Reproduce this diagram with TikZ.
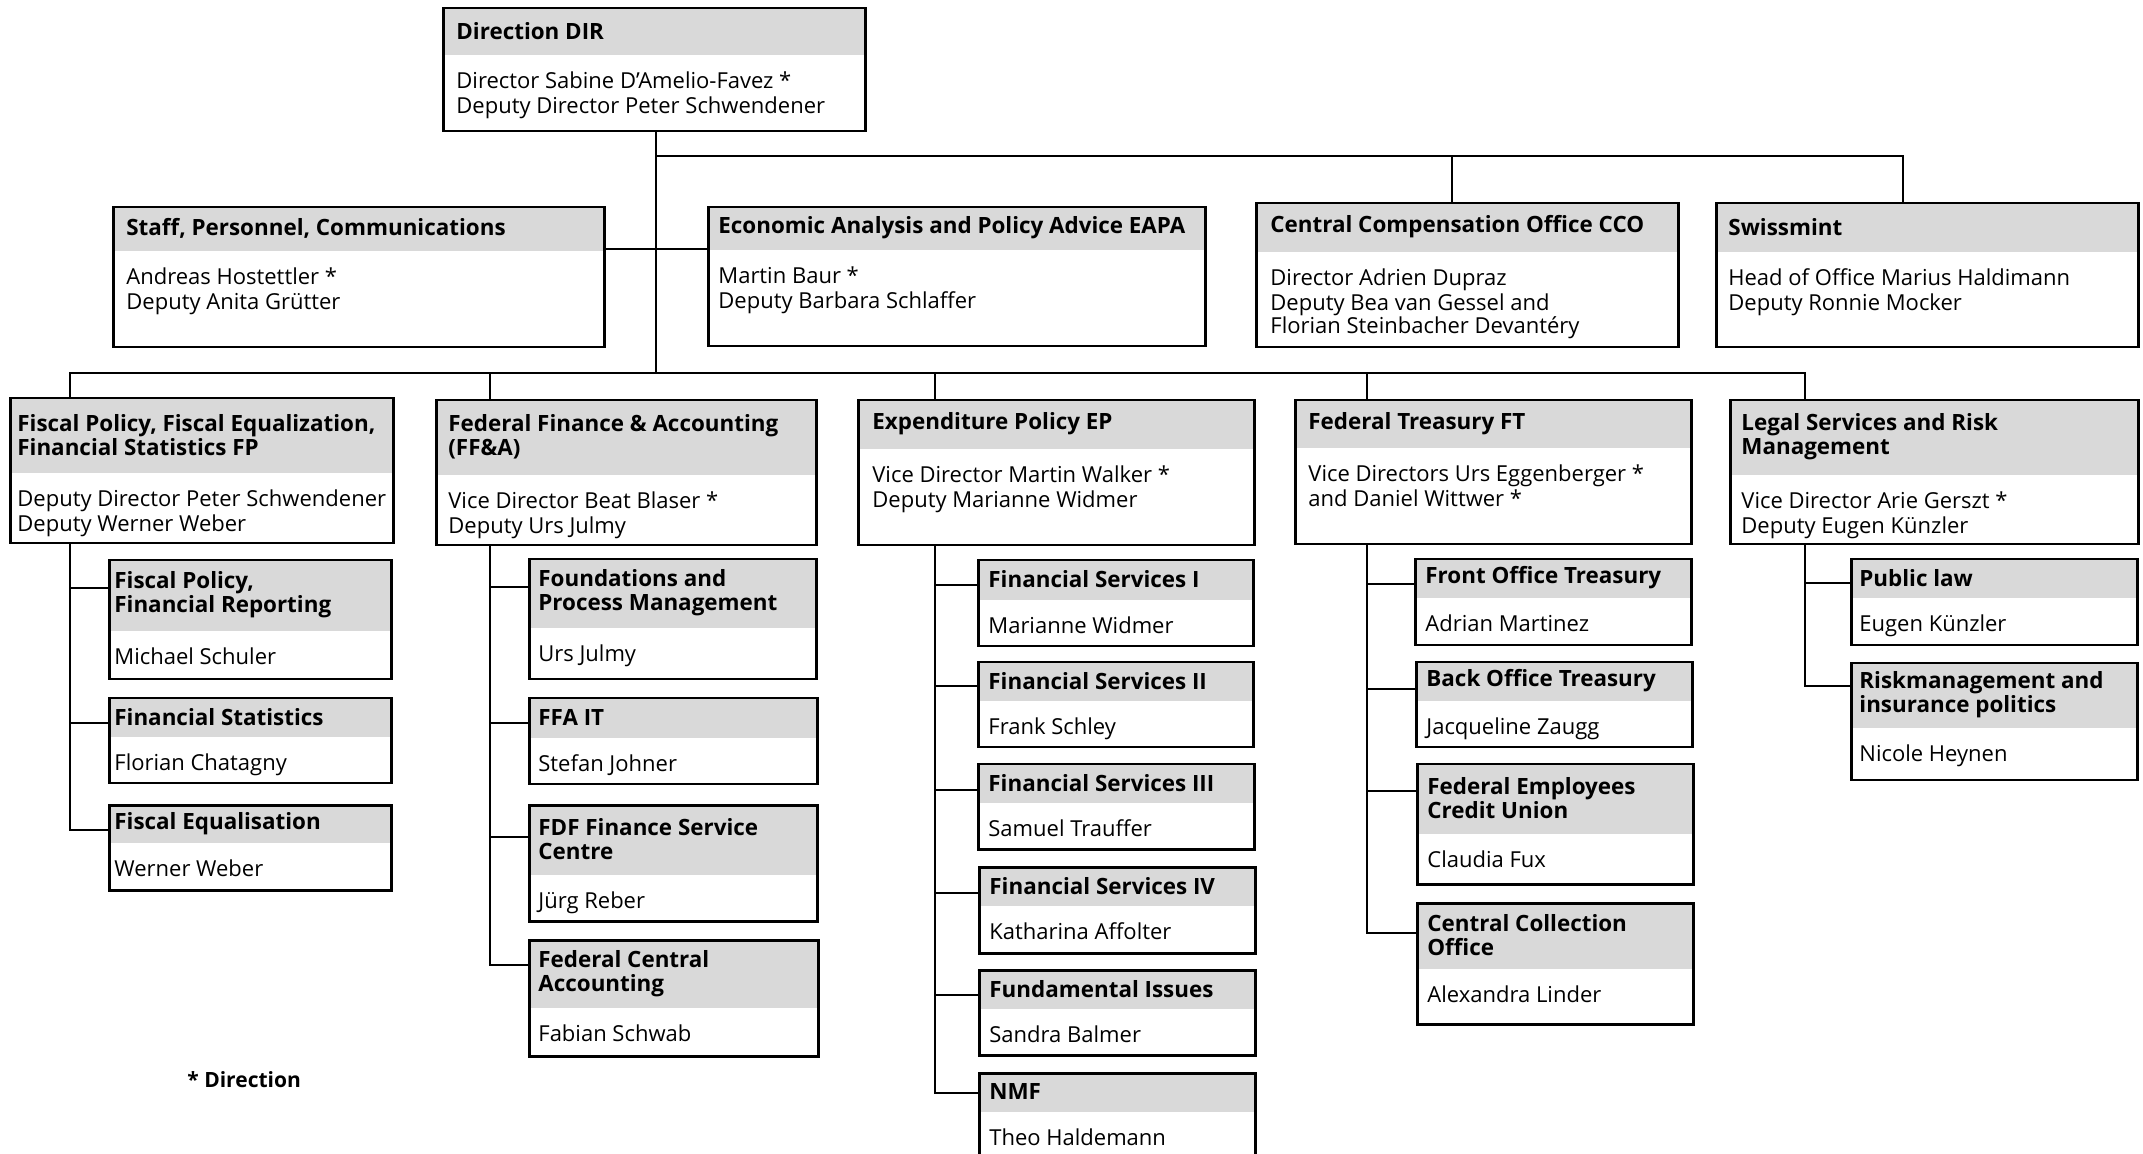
\documentclass[tikz,border=0pt]{standalone}
\usepackage{fontspec}
\setmainfont{Open Sans}
\usetikzlibrary{calc}
\definecolor{hdrgray}{RGB}{217,217,217}
\tikzset{
  conn/.style={line width=1.25pt, draw=black},
  orgbox/.style={draw=black, line width=1.25pt, inner sep=0pt, rectangle},
  titletext/.style={inner sep=0pt, align=left, font=\fontsize{11.2}{12}\selectfont\bfseries},
  bodytext/.style={inner sep=0pt, align=left, font=\fontsize{11}{11.5}\selectfont},
}
% #1 text offset, #2 name, #3 x1, #4 y1, #5 x2, #6 header bottom, #7 y2, #8 title, #9 body
\newcommand\obox[9][10]{%
  \pgfmathsetmacro\obw{(#5-#3)*0.5}%
  \pgfmathsetmacro\obh{(#7-#4)*0.5}%
  \fill[hdrgray] (#3,#4) rectangle (#5,#6);
  \node[orgbox, minimum width=\obw pt, minimum height=\obh pt, anchor=north west] (#2) at (#3,#4) {};
  \node[titletext, anchor=west] (#2-t) at (#3+#1,{(#4+#6)/2}) {#8};
  \node[bodytext, anchor=north west] (#2-b) at (#3+#1,#6+16) {\strut #9};
}
% #1 parent, #2 column coordinate, #3 child, #4 stub offset below child top
\newcommand\kid[4]{\draw[conn] (#1.south -| #2) |- ($(#3.north west)+(0,#4)$);}
\begin{document}
\begin{tikzpicture}[x=0.5pt,y=-0.5pt]
\useasboundingbox (0,0) rectangle (2143,1154);
\clip (0,0) rectangle (2143,1154);
\fill[white] (0,0) rectangle (2143,1154);

% junction coordinates
\coordinate (tA) at (656,156);
\coordinate (tB) at (656,249);
\coordinate (tC) at (656,373);
\coordinate (ccoIn) at (1452,202);
\coordinate (swissIn) at (1903,202);
\coordinate (fpIn) at (70,397);
\coordinate (ffaIn) at (490,399);
\coordinate (epIn) at (935,399);
\coordinate (ftIn) at (1367,399);
\coordinate (lgIn) at (1805,399);

% ---------- boxes ----------
\obox[14]{dir}{442}{7}{864}{55}{130}{Direction DIR}{Director Sabine D'Amelio-Favez *\\Deputy Director Peter Schwendener}

\obox[14]{staff}{112}{206}{603}{251}{346}{Staff, Personnel, Communications}{Andreas Hostettler *\\Deputy Anita Grütter}
\obox[11]{eapa}{707}{206}{1204}{250}{345}{Economic Analysis and Policy Advice EAPA}{Martin Baur *\\Deputy Barbara Schlaffer}
\obox[15]{cco}{1255}{202}{1677}{252}{346}{Central Compensation Office CCO}{Director Adrien Dupraz\\Deputy Bea van Gessel and\\Florian Steinbacher Devantéry}
\obox[13]{swiss}{1715}{202}{2137}{252}{346}{Swissmint}{Head of Office Marius Haldimann\\Deputy Ronnie Mocker}

\obox[8]{fp}{9}{397}{392}{473}{542}{Fiscal Policy, Fiscal Equalization,\\Financial Statistics FP}{Deputy Director Peter Schwendener\\Deputy Werner Weber}
\obox[13]{ffa}{435}{399}{815}{475}{544}{Federal Finance \& Accounting\\(FF\&A)}{Vice Director Beat Blaser *\\Deputy Urs Julmy}
\obox[15]{ep}{857}{399}{1253}{449}{544}{Expenditure Policy EP}{Vice Director Martin Walker *\\Deputy Marianne Widmer}
\obox[14]{ft}{1294}{399}{1690}{448}{543}{Federal Treasury FT}{Vice Directors Urs Eggenberger *\\and Daniel Wittwer *}
\obox[12]{lg}{1729}{399}{2137}{475}{543}{Legal Services and Risk\\Management}{Vice Director Arie Gerszt *\\Deputy Eugen Künzler}

% FP children
\obox[6]{fpr}{108}{559}{390}{631}{678}{Fiscal Policy,\\Financial Reporting}{Michael Schuler}
\obox[6]{fst}{108}{697}{390}{737}{782}{Financial Statistics}{Florian Chatagny}
\obox[6]{feq}{108}{804}{390}{843}{889}{Fiscal Equalisation}{Werner Weber}
% FF&A children
\obox[10]{fpm}{528}{558}{815}{628}{678}{Foundations and\\Process Management}{Urs Julmy}
\obox[10]{fit}{528}{697}{816}{738}{783}{FFA IT}{Stefan Johner}
\obox[10]{fdf}{528}{804}{816}{875}{920}{FDF Finance Service\\Centre}{Jürg Reber}
\obox[10]{fca}{528}{939}{817}{1008}{1055}{Federal Central\\Accounting}{Fabian Schwab}
% EP children
\obox[11]{fsa}{977}{559}{1252}{600}{645}{Financial Services I}{Marianne Widmer}
\obox[11]{fsb}{977}{661}{1252}{701}{746}{Financial Services II}{Frank Schley}
\obox[11]{fsc}{977}{763}{1253}{803}{848}{Financial Services III}{Samuel Trauffer}
\obox[11]{fsd}{978}{866}{1254}{906}{952}{Financial Services IV}{Katharina Affolter}
\obox[11]{fis}{978}{969}{1254}{1009}{1054}{Fundamental Issues}{Sandra Balmer}
\obox[11]{nmf}{978}{1072}{1254}{1112}{1170}{NMF}{Theo Haldemann}
% FT children
\obox[11]{fot}{1414}{558}{1690}{598}{644}{Front Office Treasury}{Adrian Martinez}
\obox[11]{bot}{1415}{661}{1691}{701}{746}{Back Office Treasury}{Jacqueline Zaugg}
\obox[11]{fecu}{1416}{763}{1692}{834}{883}{Federal Employees\\Credit Union}{Claudia Fux}
\obox[11]{cclo}{1416}{902}{1692}{969}{1023}{Central Collection\\Office}{Alexandra Linder}
% Legal children
\obox[9]{pl}{1850}{558}{2136}{598}{644}{Public law}{Eugen Künzler}
\obox[9]{rm}{1850}{662}{2136}{728}{779}{Riskmanagement and\\insurance politics}{Nicole Heynen}

% ---------- connectors ----------
\draw[conn] (dir.south -| tA) -- (tC);
\draw[conn] (tA) -| (swissIn);
\draw[conn] (ccoIn |- tA) -- (ccoIn);
\draw[conn] (staff.east |- tB) -- (eapa.west |- tB);
\draw[conn] (fpIn) |- (lgIn |- tC) -- (lgIn);
\draw[conn] (ffaIn |- tC) -- (ffaIn);
\draw[conn] (epIn |- tC) -- (epIn);
\draw[conn] (ftIn |- tC) -- (ftIn);

\kid{fp}{fpIn}{fpr}{29}
\kid{fp}{fpIn}{fst}{26}
\kid{fp}{fpIn}{feq}{26}
\kid{ffa}{ffaIn}{fpm}{29}
\kid{ffa}{ffaIn}{fit}{26}
\kid{ffa}{ffaIn}{fdf}{33}
\kid{ffa}{ffaIn}{fca}{26}
\kid{ep}{epIn}{fsa}{26}
\kid{ep}{epIn}{fsb}{25}
\kid{ep}{epIn}{fsc}{27}
\kid{ep}{epIn}{fsd}{27}
\kid{ep}{epIn}{fis}{26}
\kid{ep}{epIn}{nmf}{21}
\kid{ft}{ftIn}{fot}{26}
\kid{ft}{ftIn}{bot}{28}
\kid{ft}{ftIn}{fecu}{28}
\kid{ft}{ftIn}{cclo}{31}
\kid{lg}{lgIn}{pl}{25}
\kid{lg}{lgIn}{rm}{24}

\node[inner sep=0pt, anchor=base west, font=\fontsize{10.5}{12}\selectfont\bfseries] (note) at (187,1087) {* Direction};
\end{tikzpicture}
\end{document}
